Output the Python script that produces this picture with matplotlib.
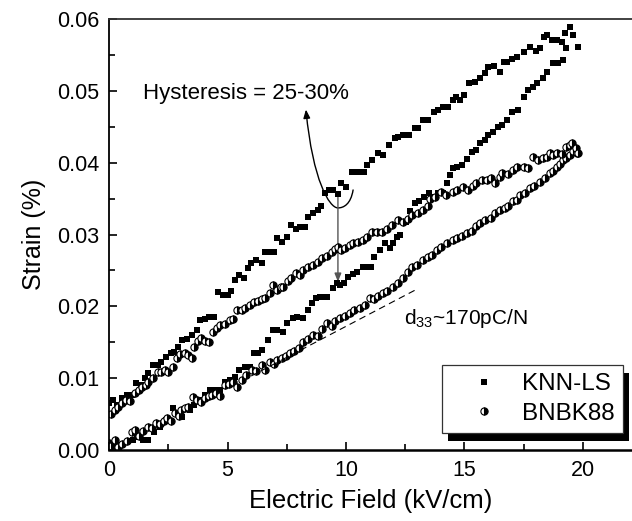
"""
Strain vs electric field hysteresis loops for KNN-LS and BNBK88.
"""
import matplotlib
matplotlib.use("Agg")
import matplotlib.pyplot as plt
from matplotlib.patches import FancyArrowPatch, Rectangle
from matplotlib.path import Path

plt.rcParams["font.family"] = ["Liberation Sans", "DejaVu Sans"]
plt.rcParams["mathtext.default"] = "regular"

# KNN-LS, rising branch (kV/cm, %)
knn_up_x = [0.0, 0.1, 0.3, 0.5, 0.8, 1.0, 1.2, 1.45, 1.65, 1.9, 2.15, 2.4, 2.7, 2.9, 3.1, 3.4, 3.6, 3.85,
            4.05, 4.25, 4.5, 4.7, 4.9, 5.1, 5.3, 5.5, 5.75, 5.95, 6.1, 6.3, 6.45, 6.7, 6.9, 7.1, 7.35, 7.5,
            7.75, 7.95, 8.2, 8.4, 8.55, 8.75, 8.9, 9.05, 9.2, 9.45, 9.6, 9.75, 9.9, 10.1, 10.3, 10.45, 10.7,
            10.9, 11.05, 11.2, 11.45, 11.65, 11.85, 12.0, 12.15, 12.3, 12.55, 12.7, 12.9, 13.1, 13.3, 13.5,
            13.7, 13.9, 14.1, 14.25, 14.4, 14.5, 14.7, 14.9, 15.1, 15.3, 15.5, 15.65, 15.85, 16.0, 16.2,
            16.4, 16.6, 16.8, 17.0, 17.25, 17.5, 17.7, 17.9, 18.05, 18.3, 18.5, 18.75, 18.95, 19.15, 19.3]
knn_up_y = [0.0008, 0.0010, 0.0006, 0.0007, 0.0012, 0.0014, 0.0018, 0.0014, 0.0014, 0.0025, 0.0032, 0.0042,
            0.0058, 0.0050, 0.0046, 0.0056, 0.0063, 0.0070, 0.0077, 0.0084, 0.0084, 0.0084, 0.0095, 0.0097,
            0.0102, 0.0111, 0.0116, 0.0116, 0.0135, 0.0135, 0.0139, 0.0153, 0.0167, 0.0167, 0.0164, 0.0177,
            0.0184, 0.0185, 0.0184, 0.0195, 0.0205, 0.0212, 0.0213, 0.0213, 0.0213, 0.0226, 0.0232, 0.0230,
            0.0232, 0.0241, 0.0245, 0.0248, 0.0255, 0.0255, 0.0255, 0.0269, 0.0279, 0.0288, 0.0281, 0.0288,
            0.0297, 0.0300, 0.0318, 0.0333, 0.0344, 0.0346, 0.0352, 0.0358, 0.0352, 0.0358, 0.0358, 0.0372,
            0.0383, 0.0393, 0.0394, 0.0397, 0.0405, 0.0415, 0.0418, 0.0428, 0.0432, 0.0439, 0.0443, 0.0450,
            0.0453, 0.0460, 0.0470, 0.0474, 0.0492, 0.0501, 0.0506, 0.0511, 0.0518, 0.0526, 0.0539, 0.0539,
            0.0543, 0.0560]

# KNN-LS, falling branch
knn_down_x = [0.0, 0.15, 0.35, 0.55, 0.75, 0.95, 1.15, 1.35, 1.5, 1.65, 1.85, 2.05, 2.2, 2.4, 2.6, 2.75,
              2.9, 3.1, 3.3, 3.5, 3.7, 3.85, 4.05, 4.2, 4.45, 4.6, 4.8, 5.0, 5.15, 5.3, 5.5, 5.7, 5.85, 6.0,
              6.2, 6.45, 6.6, 6.8, 6.95, 7.1, 7.3, 7.5, 7.7, 7.9, 8.05, 8.25, 8.4, 8.6, 8.8, 8.95, 9.1, 9.3,
              9.45, 9.65, 9.8, 10.0, 10.25, 10.45, 10.6, 10.75, 10.9, 11.1, 11.35, 11.55, 11.8, 12.05, 12.2,
              12.4, 12.65, 12.9, 13.05, 13.25, 13.45, 13.7, 13.9, 14.1, 14.3, 14.5, 14.65, 14.8, 15.0, 15.2,
              15.45, 15.65, 15.85, 16.0, 16.25, 16.5, 16.65, 16.8, 17.0, 17.2, 17.5, 17.75, 18.0, 18.2,
              18.35, 18.5, 18.7, 18.9, 19.1, 19.25, 19.45, 19.6, 19.8]
knn_down_y = [0.0065, 0.0070, 0.0063, 0.0072, 0.0077, 0.0077, 0.0093, 0.0090, 0.0100, 0.0107, 0.0118,
              0.0118, 0.0123, 0.0130, 0.0135, 0.0137, 0.0143, 0.0153, 0.0155, 0.0160, 0.0167, 0.0181,
              0.0183, 0.0185, 0.0185, 0.0220, 0.0216, 0.0216, 0.0222, 0.0237, 0.0244, 0.0240, 0.0254,
              0.0260, 0.0265, 0.0260, 0.0276, 0.0276, 0.0276, 0.0295, 0.0290, 0.0296, 0.0313, 0.0307,
              0.0310, 0.0310, 0.0325, 0.0330, 0.0334, 0.0340, 0.0358, 0.0362, 0.0362, 0.0357, 0.0372,
              0.0366, 0.0387, 0.0387, 0.0387, 0.0387, 0.0397, 0.0404, 0.0414, 0.0410, 0.0425, 0.0434,
              0.0436, 0.0439, 0.0439, 0.0448, 0.0448, 0.0460, 0.0460, 0.0470, 0.0473, 0.0478, 0.0478,
              0.0487, 0.0492, 0.0487, 0.0494, 0.0511, 0.0513, 0.0518, 0.0525, 0.0533, 0.0535, 0.0526,
              0.0540, 0.0540, 0.0544, 0.0547, 0.0554, 0.0561, 0.0556, 0.0560, 0.0575, 0.0578, 0.0571,
              0.0571, 0.0568, 0.0580, 0.0589, 0.0578, 0.0561]

# BNBK88, rising branch
bnbk_up_x = [0.0, 0.1, 0.25, 0.4, 0.55, 0.75, 0.95, 1.1, 1.25, 1.45, 1.65, 1.8, 2.0, 2.15, 2.3, 2.45, 2.6,
             2.8, 2.95, 3.05, 3.2, 3.35, 3.55, 3.7, 3.9, 4.05, 4.2, 4.35, 4.5, 4.7, 4.9, 5.05, 5.25, 5.4,
             5.6, 5.8, 6.05, 6.2, 6.45, 6.6, 6.8, 6.95, 7.1, 7.3, 7.45, 7.65, 7.8, 8.0, 8.2, 8.4, 8.6, 8.8,
             9.0, 9.2, 9.4, 9.55, 9.75, 9.95, 10.15, 10.35, 10.6, 10.8, 11.0, 11.2, 11.35, 11.55, 11.75,
             12.0, 12.2, 12.4, 12.6, 12.8, 13.0, 13.25, 13.45, 13.65, 13.85, 14.0, 14.25, 14.5, 14.7, 14.9,
             15.1, 15.3, 15.5, 15.65, 15.85, 16.1, 16.3, 16.5, 16.7, 16.85, 17.05, 17.2, 17.35, 17.55,
             17.75, 17.95, 18.2, 18.4, 18.6, 18.75, 18.9, 19.05, 19.15, 19.3, 19.45, 19.6, 19.75]
bnbk_up_y = [0.0010, 0.0006, 0.0014, 0.0004, 0.0008, 0.0012, 0.0025, 0.0028, 0.0020, 0.0027, 0.0032,
             0.0030, 0.0037, 0.0036, 0.0040, 0.0045, 0.0040, 0.0052, 0.0048, 0.0055, 0.0058, 0.0060,
             0.0074, 0.0070, 0.0067, 0.0072, 0.0075, 0.0077, 0.0080, 0.0075, 0.0090, 0.0092, 0.0095,
             0.0088, 0.0097, 0.0104, 0.0111, 0.0110, 0.0118, 0.0112, 0.0123, 0.0120, 0.0125, 0.0128,
             0.0131, 0.0135, 0.0138, 0.0142, 0.0150, 0.0155, 0.0160, 0.0158, 0.0168, 0.0177, 0.0172,
             0.0180, 0.0184, 0.0186, 0.0191, 0.0195, 0.0198, 0.0202, 0.0212, 0.0210, 0.0214, 0.0219,
             0.0222, 0.0227, 0.0232, 0.0240, 0.0248, 0.0255, 0.0258, 0.0265, 0.0268, 0.0272, 0.0278,
             0.0283, 0.0288, 0.0292, 0.0295, 0.0298, 0.0302, 0.0305, 0.0312, 0.0316, 0.0320, 0.0323,
             0.0330, 0.0334, 0.0337, 0.0340, 0.0346, 0.0348, 0.0355, 0.0358, 0.0365, 0.0367, 0.0373,
             0.0378, 0.0386, 0.0388, 0.0394, 0.0398, 0.0404, 0.0406, 0.0411, 0.0416, 0.0414]

# BNBK88, falling branch
bnbk_down_x = [0.1, 0.25, 0.4, 0.55, 0.7, 0.9, 1.1, 1.25, 1.4, 1.55, 1.65, 1.85, 2.05, 2.2, 2.35, 2.5, 2.7,
               2.85, 3.0, 3.2, 3.35, 3.5, 3.6, 3.75, 3.9, 4.05, 4.2, 4.4, 4.55, 4.7, 4.9, 5.1, 5.25, 5.4,
               5.6, 5.75, 5.95, 6.1, 6.3, 6.45, 6.6, 6.8, 6.9, 7.1, 7.25, 7.35, 7.55, 7.7, 7.9, 8.05, 8.2,
               8.4, 8.6, 8.8, 9.0, 9.2, 9.4, 9.55, 9.65, 9.8, 9.95, 10.15, 10.3, 10.5, 10.7, 10.9, 11.1,
               11.3, 11.5, 11.75, 11.95, 12.2, 12.4, 12.6, 12.8, 13.05, 13.25, 13.45, 13.55, 13.75, 14.0,
               14.2, 14.5, 14.7, 14.95, 15.15, 15.35, 15.5, 15.75, 15.95, 16.1, 16.3, 16.5, 16.6, 16.85,
               17.05, 17.2, 17.5, 17.7, 17.9, 18.1, 18.3, 18.5, 18.6, 18.75, 18.9, 19.1, 19.3, 19.45,
               19.55, 19.7, 19.8]
bnbk_down_y = [0.0050, 0.0055, 0.0060, 0.0066, 0.0070, 0.0068, 0.0079, 0.0083, 0.0088, 0.0090, 0.0095,
               0.0100, 0.0108, 0.0108, 0.0111, 0.0108, 0.0115, 0.0128, 0.0133, 0.0135, 0.0132, 0.0128,
               0.0143, 0.0152, 0.0156, 0.0152, 0.0150, 0.0164, 0.0170, 0.0174, 0.0176, 0.0181, 0.0183,
               0.0195, 0.0195, 0.0198, 0.0202, 0.0206, 0.0208, 0.0210, 0.0212, 0.0219, 0.0230, 0.0223,
               0.0227, 0.0227, 0.0235, 0.0240, 0.0247, 0.0243, 0.0250, 0.0255, 0.0258, 0.0262, 0.0267,
               0.0270, 0.0276, 0.0280, 0.0283, 0.0279, 0.0281, 0.0286, 0.0288, 0.0290, 0.0292, 0.0297,
               0.0304, 0.0304, 0.0304, 0.0308, 0.0313, 0.0320, 0.0318, 0.0322, 0.0327, 0.0330, 0.0334,
               0.0340, 0.0350, 0.0352, 0.0359, 0.0355, 0.0359, 0.0362, 0.0366, 0.0362, 0.0368, 0.0372,
               0.0376, 0.0376, 0.0379, 0.0372, 0.0380, 0.0386, 0.0384, 0.0390, 0.0394, 0.0394, 0.0392,
               0.0408, 0.0404, 0.0406, 0.0408, 0.0414, 0.0411, 0.0414, 0.0412, 0.0422, 0.0425, 0.0428,
               0.0420, 0.0414]

# linear guide for d33 and its label
d33_x = [6.0, 13.0]
d33_y = [0.0103, 0.0224]
d33_label = r"d$_{33}$~170pC/N"
hyst_label = "Hysteresis = 25-30%"

for xs, ys in [(knn_up_x, knn_up_y), (knn_down_x, knn_down_y),
               (bnbk_up_x, bnbk_up_y), (bnbk_down_x, bnbk_down_y)]:
    assert len(xs) == len(ys), (len(xs), len(ys))


def main():
    fig = plt.figure(figsize=(6.32, 5.21), dpi=100)
    ax = fig.add_axes([0.1725, 0.1363, 0.8275, 0.8272])

    sq = dict(ls="none", marker="s", ms=4.4, color="black", mec="black", mew=0)
    circ = dict(ls="none", marker="o", ms=5.2, color="black", mec="black", mew=0.8,
                fillstyle="right", markerfacecoloralt="white")

    ax.plot(knn_up_x, knn_up_y, label="KNN-LS", **sq)
    ax.plot(knn_down_x, knn_down_y, **sq)
    ax.plot(bnbk_up_x, bnbk_up_y, label="BNBK88", **circ)
    ax.plot(bnbk_down_x, bnbk_down_y, **circ)

    ax.plot(d33_x, d33_y, ls=(0, (6, 4)), lw=0.8, color="black")
    ax.text(12.45, 0.0175, d33_label, fontsize=15)

    # hysteresis annotation: curved arrow and vertical arrow
    head = "-|>,head_length=5,head_width=2"
    verts = [(10.3, 0.0362), (10.2, 0.0342), (9.9, 0.0337), (9.66, 0.0337),
             (9.3, 0.0337), (8.6, 0.0375), (8.31, 0.0474)]
    codes = [Path.MOVETO, Path.CURVE4, Path.CURVE4, Path.CURVE4,
             Path.CURVE4, Path.CURVE4, Path.CURVE4]
    ax.add_patch(FancyArrowPatch(path=Path(verts, codes), arrowstyle=head, lw=1.0, color="black"))
    ax.add_patch(FancyArrowPatch((9.66, 0.0358), (9.66, 0.0234), arrowstyle=head, lw=1.0,
                                 color="#555555", shrinkA=0, shrinkB=0))
    ax.text(1.43, 0.0488, hyst_label, fontsize=16)

    ax.set_xlim(0, 22.07)
    ax.set_ylim(0, 0.06)
    ax.set_xticks([0, 5, 10, 15, 20])
    ax.set_xticks([2.5, 7.5, 12.5, 17.5], minor=True)
    ax.set_yticks([0, 0.01, 0.02, 0.03, 0.04, 0.05, 0.06])
    ax.set_yticks([0.005, 0.015, 0.025, 0.035, 0.045, 0.055], minor=True)
    ax.set_yticklabels(["0.00", "0.01", "0.02", "0.03", "0.04", "0.05", "0.06"])
    ax.tick_params(which="both", direction="in", labelsize=15.5, width=1.2, colors="black")
    ax.tick_params(which="major", length=6, pad=7)
    ax.tick_params(which="minor", length=4)
    ax.spines["right"].set_visible(False)
    ax.spines["bottom"].set_linewidth(1.8)
    ax.spines["left"].set_linewidth(1.3)
    ax.spines["top"].set_linewidth(1.3)
    ax.spines["top"].set_color("#333333")

    ax.set_xlabel("Electric Field (kV/cm)", fontsize=18.5, labelpad=6)
    ax.set_ylabel("Strain (%)", fontsize=18, labelpad=8)

    leg = ax.legend(loc="lower right", bbox_to_anchor=(0.983, 0.039), borderaxespad=0,
                    fontsize=17.5, frameon=True, fancybox=False, framealpha=1.0,
                    handletextpad=0.15, handlelength=2.8, labelspacing=0.3, borderpad=0.35,
                    markerscale=1.0)
    leg.get_frame().set_edgecolor("#333333")
    leg.get_frame().set_linewidth(0.9)

    # solid black drop shadow behind the legend box
    fig.canvas.draw()
    bb = leg.get_window_extent().transformed(fig.transFigure.inverted())
    dx, dy = 6 / 632, -8 / 521
    fig.patches.append(Rectangle((bb.x0 + dx, bb.y0 + dy), bb.width, bb.height,
                                 transform=fig.transFigure, facecolor="black", edgecolor="none",
                                 zorder=0.5))
    ax.set_zorder(1)
    ax.patch.set_alpha(0)

    fig.savefig("out.png", dpi=100)


if __name__ == "__main__":
    main()
